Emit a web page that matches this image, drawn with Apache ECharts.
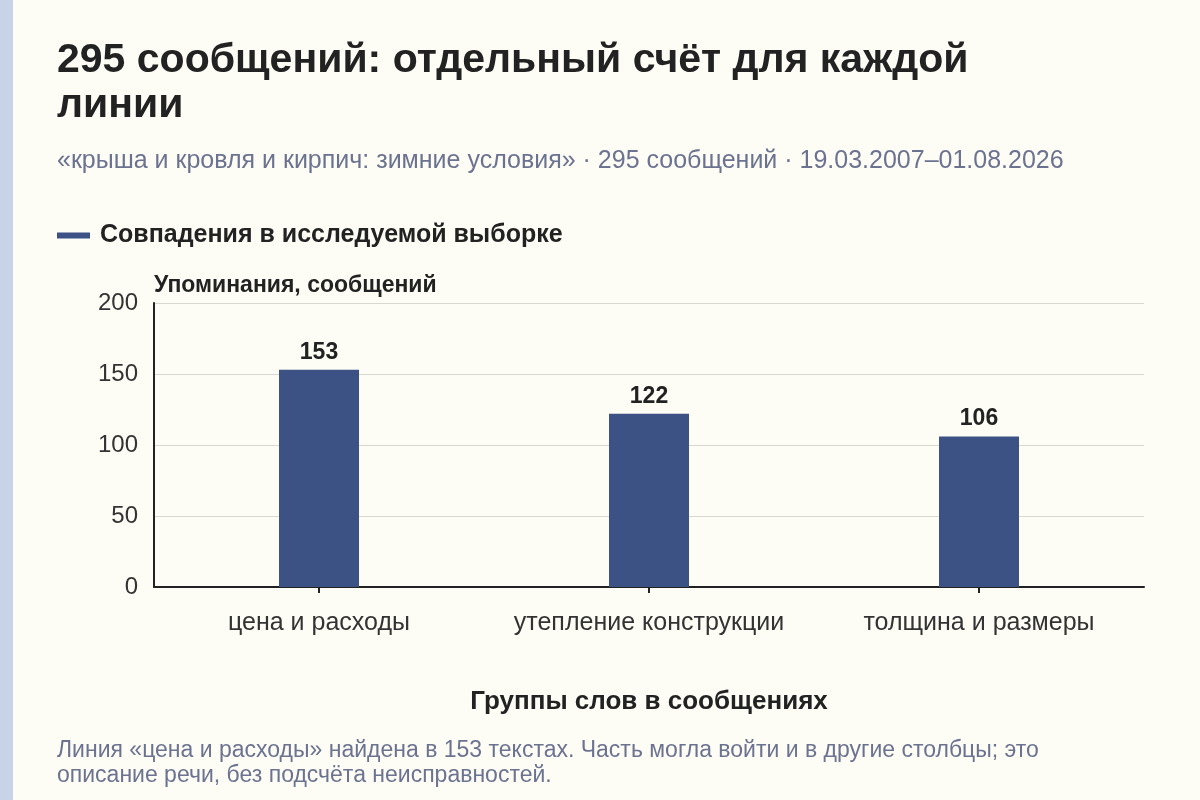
<!DOCTYPE html>
<html><head><meta charset="utf-8">
<style>html,body{margin:0;padding:0;background:#fdfcf5;}#c{width:1200px;height:800px;}</style>
<script src="https://cdn.jsdelivr.net/npm/echarts@6/dist/echarts.min.js"></script>
</head><body><div id="c"></div>
<script>
const categories = ['цена и расходы', 'утепление конструкции', 'толщина и размеры'];
const values = [153, 122, 106];
const yTicks = [0, 50, 100, 150, 200];
const seriesName = 'Совпадения в исследуемой выборке';
const titleText = '295 сообщений: отдельный счёт для каждой\nлинии';
const subtitleText = '«крыша и кровля и кирпич: зимние условия» · 295 сообщений · 19.03.2007–01.08.2026';
const footText = 'Линия «цена и расходы» найдена в 153 текстах. Часть могла войти и в другие столбцы; это\nописание речи, без подсчёта неисправностей.';

const FONT = '"Liberation Sans", Arial, sans-serif';
const chart = echarts.init(document.getElementById('c'), null, {renderer: 'canvas'});
chart.setOption({
  backgroundColor: '#fdfcf5',
  textStyle: {fontFamily: FONT},
  graphic: [{type: 'rect', left: 0, top: 0, shape: {width: 13, height: 800}, style: {fill: '#c8d3e7'}}],
  title: [
    {text: titleText, left: 57, top: 38, padding: 0, textStyle: {fontFamily: FONT, fontSize: 41, fontWeight: 'bold', color: '#222', lineHeight: 45}},
    {text: subtitleText, left: 57, top: 149, padding: 0, textStyle: {fontFamily: FONT, fontSize: 25, fontWeight: 'normal', color: '#6b7390'}},
    {text: footText, left: 57, top: 738, padding: 0, textStyle: {fontFamily: FONT, fontSize: 23, fontWeight: 'normal', color: '#6b7390', lineHeight: 25}}
  ],
  legend: {
    left: 57, top: 223, padding: 0, itemWidth: 33, itemHeight: 6, icon: 'rect',
    textStyle: {fontFamily: FONT, fontSize: 25, fontWeight: 'bold', color: '#222', padding: [0, 0, 0, 5]},
    data: [seriesName]
  },
  grid: {left: 154, right: 56, top: 303, bottom: 213, containLabel: false},
  xAxis: {
    type: 'category', data: categories,
    name: 'Группы слов в сообщениях', nameLocation: 'middle', nameGap: 102,
    nameTextStyle: {fontFamily: FONT, fontSize: 26, fontWeight: 'bold', color: '#222'},
    axisLine: {lineStyle: {color: '#222', width: 2}},
    axisTick: {show: true, alignWithLabel: true, length: 6, lineStyle: {color: '#222', width: 2}},
    axisLabel: {interval: 0, fontFamily: FONT, fontSize: 25, color: '#333', margin: 24}
  },
  yAxis: {
    type: 'value', min: yTicks[0], max: yTicks[yTicks.length - 1], interval: 50,
    name: 'Упоминания, сообщений', nameLocation: 'end', nameGap: 6,
    nameTextStyle: {fontFamily: FONT, fontSize: 23, fontWeight: 'bold', color: '#222', align: 'left', verticalAlign: 'bottom'},
    axisLine: {show: true, lineStyle: {color: '#222', width: 2}},
    axisTick: {show: false},
    axisLabel: {fontFamily: FONT, fontSize: 24, color: '#333', margin: 16},
    splitLine: {lineStyle: {color: '#d9d7d0', width: 1}}
  },
  series: [{
    name: seriesName, type: 'bar', data: values, barWidth: 80,
    itemStyle: {color: '#3c5285'},
    label: {show: true, position: 'top', distance: 6, fontFamily: FONT, fontSize: 23, fontWeight: 'bold', color: '#222'}
  }]
});
</script></body></html>
